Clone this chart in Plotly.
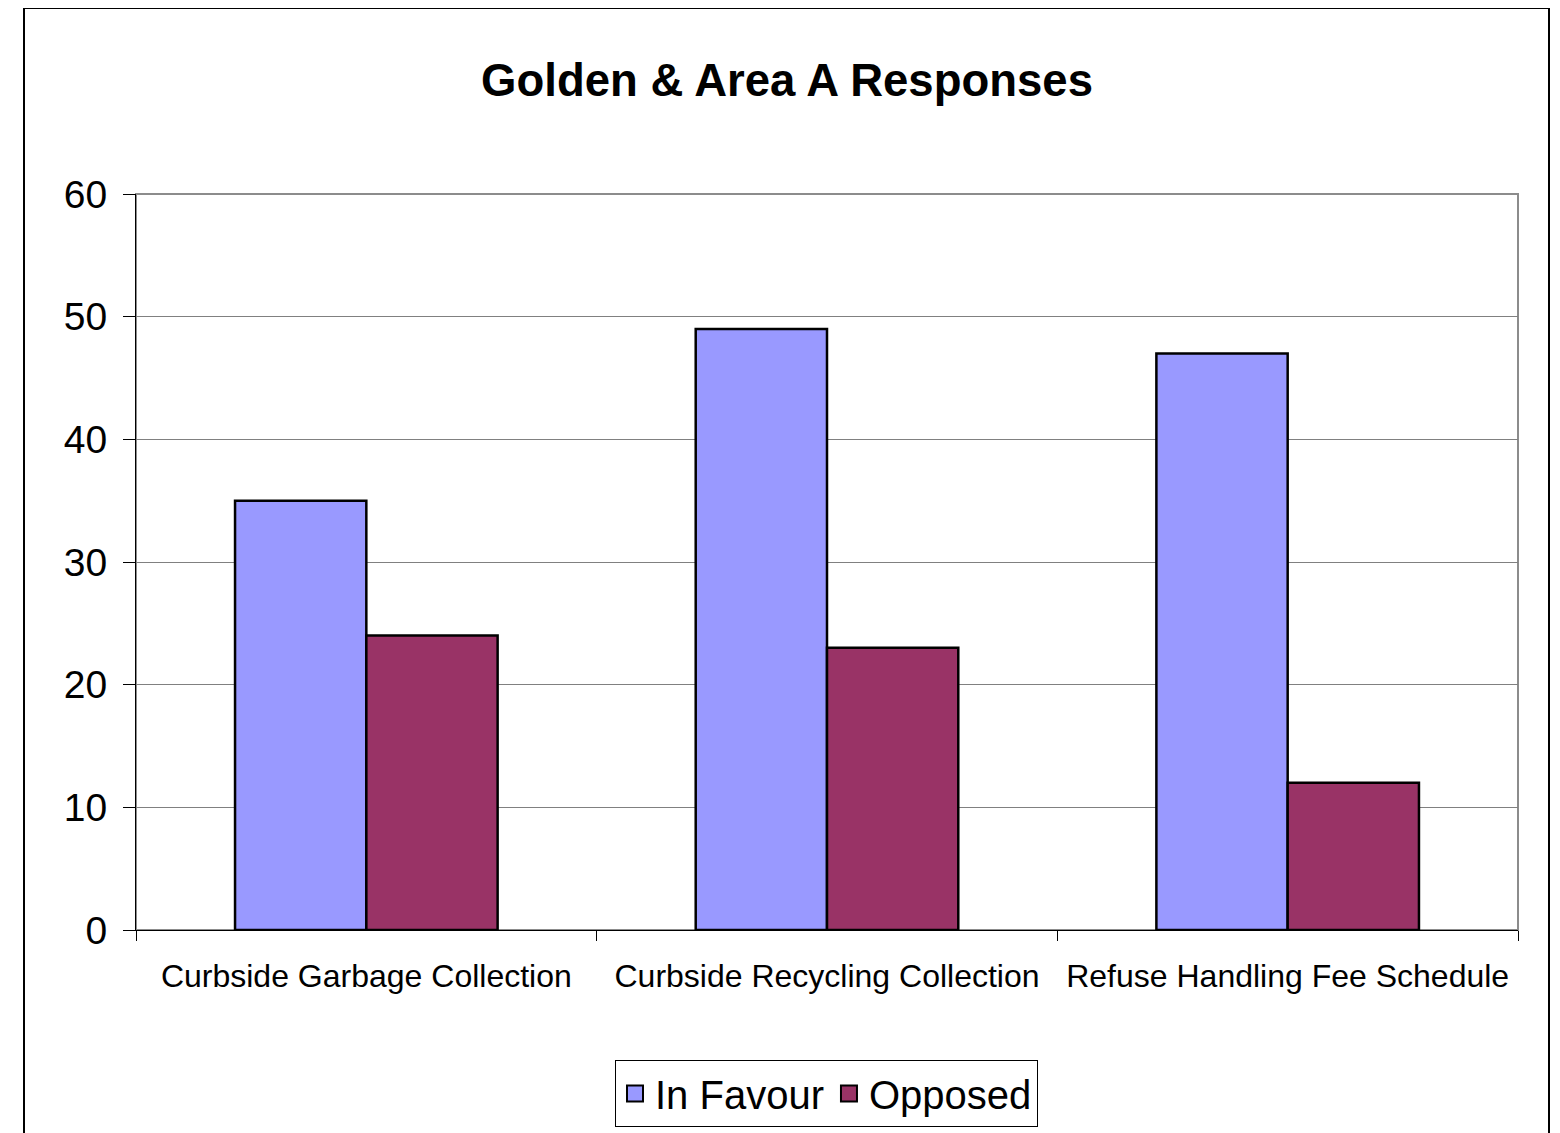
import plotly.graph_objects as go

categories = ["Curbside Garbage Collection", "Curbside Recycling Collection", "Refuse Handling Fee Schedule"]
in_favour = [35, 49, 47]
opposed = [24, 23, 12]
y_ticks = [0, 10, 20, 30, 40, 50, 60]
series_names = ["In Favour", "Opposed"]
series_colors = ["#9999FF", "#993366"]

FONT = "Liberation Sans, Arial, sans-serif"

# page body has an 8px margin; the figure is sized/offset to compensate
W, H, OFF = 1552, 1125, 8
PL, PR, PT, PB = 136, 1518, 194, 930  # plot area in page pixels

fig = go.Figure()
for name, vals, col in zip(series_names, [in_favour, opposed], series_colors):
    fig.add_trace(go.Bar(name=name, x=categories, y=vals, showlegend=False, legendgroup=name,
                         marker=dict(color=col, line=dict(color="black", width=2.5))))
for name, col in zip(series_names, series_colors):
    fig.add_trace(go.Scatter(name=name, x=[None], y=[None], mode="markers", legendgroup=name,
                             marker=dict(symbol="square", size=16, color=col,
                                         line=dict(color="black", width=2))))

pw = PR - PL
ph = PB - PT
fig.update_layout(
    width=W, height=H,
    margin=dict(l=PL - OFF, r=W + OFF - PR, t=PT - OFF, b=H + OFF - PB),
    paper_bgcolor="white", plot_bgcolor="white",
    barmode="group", bargap=0.43, bargroupgap=0,
    font=dict(family=FONT, color="black"),
    title=dict(text="<b>Golden &amp; Area A Responses</b>", x=(787 - OFF) / W, xanchor="center",
               y=1 - (80 - OFF) / H, yanchor="middle", font=dict(size=45.5, family=FONT, color="black")),
    showlegend=True,
    legend=dict(orientation="h", xref="container", yref="container",
                x=(826.5 - OFF) / W, xanchor="center", y=1 - (1060 - OFF) / H, yanchor="top",
                bordercolor="black", borderwidth=1, bgcolor="white", itemwidth=30,
                font=dict(size=40, family=FONT, color="black"), itemclick=False, itemdoubleclick=False),
    xaxis=dict(showline=True, linecolor="black", linewidth=1, ticks="outside", ticklen=10,
               tickcolor="black", tickson="boundaries", showgrid=False, fixedrange=True,
               tickfont=dict(size=32, family=FONT, color="black"), ticklabelstandoff=18),
    yaxis=dict(range=[0, 60], tickvals=y_ticks, showline=True, linecolor="black", linewidth=1,
               ticks="outside", ticklen=12, tickcolor="black", showgrid=True, fixedrange=True,
               gridcolor="#808080", gridwidth=1, zeroline=False,
               tickfont=dict(size=39, family=FONT, color="black"), ticklabelstandoff=8),
)

# plot area border (gray, top/right)
fig.add_shape(type="rect", xref="x domain", yref="y domain", x0=0, x1=1, y0=0, y1=1,
              line=dict(color="#8C8C8C", width=2), layer="below")
# outer chart border
fig.add_shape(type="rect", xref="paper", yref="paper",
              x0=(24 - PL) / pw, x1=(1549 - PL) / pw,
              y0=(PB - 1145) / ph, y1=(PB - 8) / ph,
              line=dict(color="black", width=2), layer="below")

fig.write_html("out.html")
